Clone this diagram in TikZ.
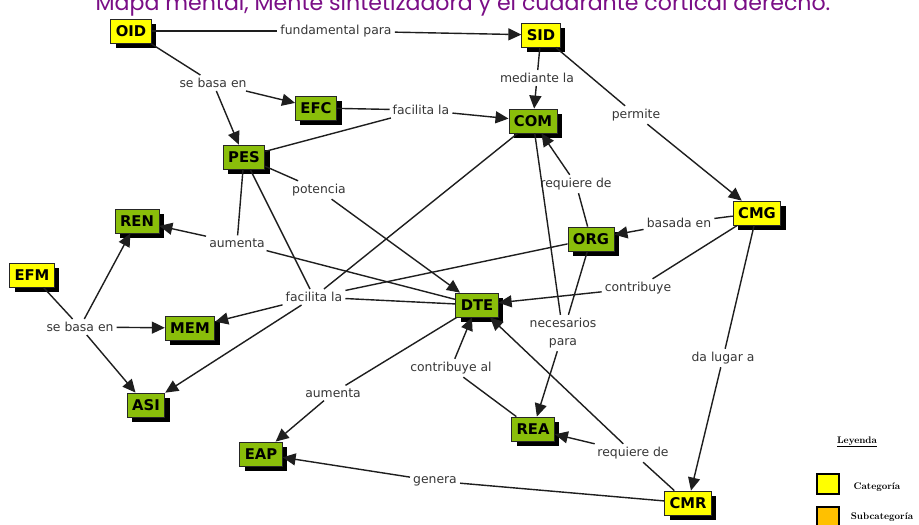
\documentclass[tikz,border=0pt]{standalone}
\usepackage{fontspec}
\newfontfamily\dv{DejaVu Sans}
\newfontfamily\titlefont{Poppins}
\usetikzlibrary{shadows,arrows.meta}
\definecolor{cyel}{RGB}{255,255,0}
\definecolor{cgrn}{RGB}{138,190,10}
\definecolor{corg}{RGB}{255,192,0}
\definecolor{cpur}{RGB}{122,14,134}
\definecolor{cline}{RGB}{30,30,30}
\definecolor{ctxt}{RGB}{55,55,55}
\begin{document}
\begin{tikzpicture}[x=1pt,y=-1pt,
 concept/.style={draw=black!85, line width=0.8pt, font=\dv\bfseries\fontsize{14.8}{16}\selectfont,
   inner xsep=5pt, inner ysep=0pt, minimum height=24pt,
   drop shadow={shadow xshift=5pt,shadow yshift=-5pt,fill=black,opacity=1}},
 cat/.style={concept, fill=cyel},
 sub/.style={concept, fill=cgrn},
 lnk/.style={font=\dv\fontsize{12.4}{18}\selectfont, text=ctxt, inner sep=3pt, align=center},
 con/.style={draw=cline, line width=1.4pt},
 arr/.style={con, -{Triangle[length=13pt,width=12pt]}},
 legbox/.style={draw=black, line width=1.6pt, minimum width=22pt, minimum height=20pt},
 legtxt/.style={font=\bfseries\fontsize{9.6}{10}\selectfont}
]
\useasboundingbox (0,0) rectangle (919,525);
\fill[white] (0,0) rectangle (919,525);
\node[anchor=base, text=cpur, font=\titlefont\fontsize{22.1}{24}\selectfont] (title) at (463,10.5)
  {Mapa mental, Mente sintetizadora y el cuadrante cortical derecho.};
% concepts
\node[cat] (OID) at (131,31) {OID};
\node[cat] (SID) at (541,35) {SID};
\node[sub] (EFC) at (316,108) {EFC};
\node[sub] (COM) at (533,121) {COM};
\node[sub] (PES) at (244,157) {PES};
\node[cat] (CMG) at (757,213) {CMG};
\node[sub] (REN) at (137,221) {REN};
\node[sub] (ORG) at (591,239) {ORG};
\node[cat] (EFM) at (32,275) {EFM};
\node[sub] (MEM) at (190,328) {MEM};
\node[sub] (DTE) at (477,305) {DTE};
\node[sub] (ASI) at (146,405) {ASI};
\node[sub] (EAP) at (261,454) {EAP};
\node[sub] (REA) at (533,429) {REA};
\node[cat] (CMR) at (688,503) {CMR};
% linking phrases
\node[lnk] (l1) at (336,31) {fundamental para};
\node[lnk] (l2) at (213,83) {se basa en};
\node[lnk] (l3) at (421,110) {facilita la};
\node[lnk] (l4) at (537,78) {mediante la};
\node[lnk] (l5) at (636,115) {permite};
\node[lnk] (l6) at (319,190) {potencia};
\node[lnk] (l7) at (576,184) {requiere de};
\node[lnk] (l8) at (679,223) {basada en};
\node[lnk] (l9) at (237,243) {aumenta};
\node[lnk] (l10) at (314,297) {facilita la};
\node[lnk] (l11) at (638,288) {contribuye};
\node[lnk] (l12) at (80,327) {se basa en};
\node[lnk] (l13) at (563,333) {necesarios\\para};
\node[lnk] (l14) at (451,368) {contribuye al};
\node[lnk] (l15) at (333,393) {aumenta};
\node[lnk] (l16) at (723,358) {da lugar a};
\node[lnk] (l17) at (633,453) {requiere de};
\node[lnk] (l18) at (435,481) {genera};
% connectors
\draw[con] (OID) -- (l1); \draw[arr] (l1) -- (SID);
\draw[con] (OID) -- (l2); \draw[arr] (l2) -- (EFC); \draw[arr] (l2) -- (PES);
\draw[con] (EFC) -- (l3); \draw[con] (PES) -- (l3); \draw[arr] (l3) -- (COM);
\draw[con] (SID) -- (l4); \draw[arr] (l4) -- (COM);
\draw[con] (SID) -- (l5); \draw[arr] (l5) -- (CMG);
\draw[con] (PES) -- (l6); \draw[arr] (l6) -- (DTE);
\draw[con] (ORG) -- (l7); \draw[arr] (l7) -- (COM);
\draw[con] (CMG) -- (l8); \draw[arr] (l8) -- (ORG);
\draw[con] (PES) -- (l9); \draw[con] (DTE) -- (l9); \draw[arr] (l9) -- (REN);
\draw[con] (PES) -- (l10); \draw[con] (COM) -- (l10); \draw[con] (ORG) -- (l10); \draw[con] (DTE) -- (l10);
\draw[arr] (l10) -- (MEM); \draw[arr] (l10) -- (ASI);
\draw[con] (CMG) -- (l11); \draw[arr] (l11) -- (DTE);
\draw[con] (EFM) -- (l12); \draw[arr] (l12) -- (REN); \draw[arr] (l12) -- (MEM); \draw[arr] (l12) -- (ASI);
\draw[con] (COM) -- (l13); \draw[con] (ORG) -- (l13); \draw[arr] (l13) -- (REA);
\draw[con] (REA) -- (l14); \draw[arr] (l14) -- (DTE);
\draw[con] (DTE) -- (l15); \draw[arr] (l15) -- (EAP);
\draw[con] (CMG) -- (l16); \draw[arr] (l16) -- (CMR);
\draw[con] (CMR) -- (l17); \draw[arr] (l17) -- (REA); \draw[arr] (l17) -- (DTE);
\draw[con] (CMR) -- (l18); \draw[arr] (l18) -- (EAP);
% legend
\node[legtxt] (leg) at (857,442) {\underline{Leyenda}};
\node[legbox, fill=cyel] (lb1) at (828,484) {};
\node[legbox, fill=corg] (lb2) at (828,517) {};
\node[legtxt] (lt1) at (877,487) {Categoría};
\node[legtxt] (lt2) at (882,517) {Subcategoría};
\end{tikzpicture}
\end{document}
